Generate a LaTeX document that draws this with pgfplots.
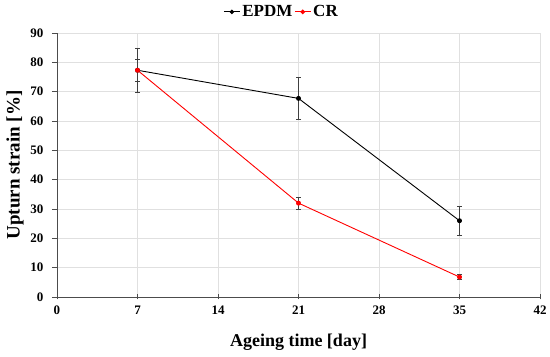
\documentclass[border=0pt]{standalone}
\usepackage{pgfplots}
\pgfplotsset{compat=1.18}
\usepackage{fontspec}
\setmainfont{Liberation Serif}
\begin{document}
\begin{tikzpicture}
\begin{axis}[name=a,
  scale only axis, width=483pt, height=264pt,
  xmin=0, xmax=42, ymin=0, ymax=90,
  xtick={0,7,...,42}, ytick={0,10,...,90},
  axis x line*=bottom, axis y line*=left,
  axis line style={draw=black!70, line width=0.8pt},
  tick style={draw=black!70, line width=0.6pt},
  xtick align=center, ytick align=outside,
  major tick length=5pt,
  grid=major, major grid style={draw=black!12, line width=0.6pt},
  ticklabel style={font=\bfseries\fontsize{13}{14}\selectfont},
  yticklabel style={xshift=-5pt},
  xticklabel style={yshift=-3pt},
  /pgf/number format/assume math mode=true,
  xlabel={\bfseries Ageing time [day]}, ylabel={\bfseries Upturn strain [\%]},
  xlabel style={font=\bfseries\fontsize{18}{20}\selectfont, yshift=-12pt},
  ylabel style={font=\bfseries\fontsize{19}{21}\selectfont, yshift=0pt},
  legend style={at={(0.465,1.04)}, anchor=south, draw=none, fill=none,
    legend columns=-1, font=\bfseries\fontsize{17}{19}\selectfont},
  legend image code/.code={\draw[#1] (0pt,0pt) -- (16pt,0pt); \fill[#1] (8pt,0pt) circle (1.8pt);},
]
\addplot[black, line width=0.9pt, mark=*, mark size=2pt,
  error bars/.cd, y dir=both, y explicit, error bar style={black!75, line width=0.7pt}, error mark options={black!75, mark size=2.5pt, rotate=90}]
  coordinates {(7,77.3) +- (0,7.6) (21,67.7) +- (0,7.2) (35,26) +- (0,5)};
\addlegendentry{EPDM\hspace{9pt}}
\addplot[red, line width=0.9pt, mark=*, mark size=2pt,
  error bars/.cd, y dir=both, y explicit, error bar style={black!75, line width=0.7pt}, error mark options={black!75, mark size=2.5pt, rotate=90}]
  coordinates {(7,77.3) +- (0,3.6) (21,32) +- (0,2.1) (35,6.8) +- (0,0.8)};
\addlegendentry{CR}
\end{axis}
\pgfresetboundingbox
\path (a.south west) ++(-57pt,-60pt) rectangle ([shift={(10pt,33pt)}]a.north east);
\end{tikzpicture}
\end{document}
